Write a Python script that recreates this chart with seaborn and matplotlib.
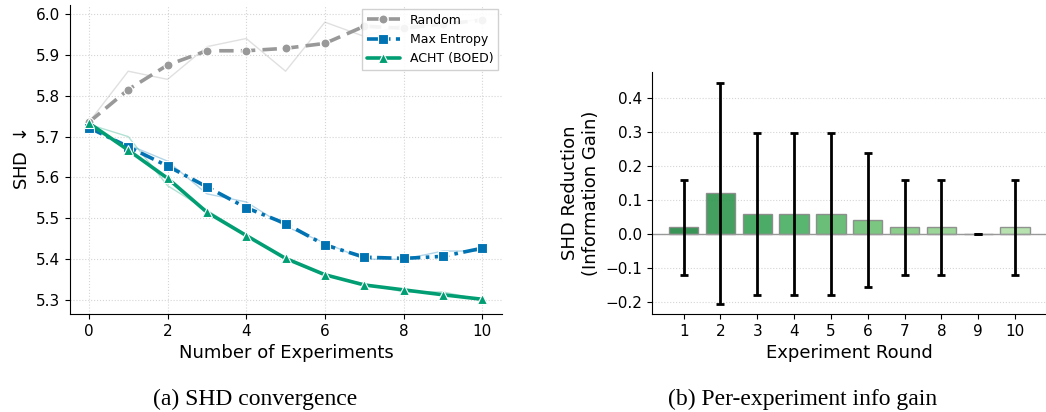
import numpy as np
import pandas as pd
import matplotlib
matplotlib.use("Agg")
import matplotlib.pyplot as plt
import seaborn as sns

# SHD curves (smoothed) and raw runs
experiments = list(range(11))
random_smooth = [5.735, 5.815, 5.875, 5.910, 5.910, 5.916, 5.928, 5.970, 5.965, 5.975, 5.985]
random_raw = [5.735, 5.860, 5.840, 5.920, 5.940, 5.860, 5.980, 5.945, 5.975, 5.970, 5.990]
maxent_smooth = [5.722, 5.675, 5.628, 5.577, 5.526, 5.487, 5.435, 5.405, 5.402, 5.407, 5.427]
maxent_raw = [5.720, 5.680, 5.640, 5.560, 5.540, 5.480, 5.440, 5.400, 5.400, 5.420, 5.420]
acht_smooth = [5.733, 5.667, 5.598, 5.515, 5.458, 5.402, 5.362, 5.337, 5.325, 5.313, 5.302]
acht_raw = [5.730, 5.700, 5.580, 5.520, 5.460, 5.400, 5.360, 5.340, 5.320, 5.320, 5.300]

# per-round information gain
rounds = [str(i) for i in range(1, 11)]
gains = [0.02, 0.12, 0.06, 0.06, 0.06, 0.04, 0.02, 0.02, 0.0, 0.02]
gain_err = [0.14, 0.325, 0.238, 0.238, 0.238, 0.197, 0.14, 0.14, 0.0, 0.14]

sns.set_style("ticks", {"text.color": "black", "axes.labelcolor": "black",
                        "xtick.color": "black", "ytick.color": "black",
                        "axes.edgecolor": "black"})
plt.rcParams['font.family'] = ['DejaVu Sans']

fig = plt.figure(figsize=(10.46, 4.12), dpi=100)
ax1 = fig.add_axes([0.0669, 0.2379, 0.413, 0.750])
ax2 = fig.add_axes([0.6233, 0.2379, 0.3767, 0.587])

series = [
    ("Random", random_smooth, random_raw, "#999999", (0, (4, 2)), "o"),
    ("Max Entropy", maxent_smooth, maxent_raw, "#0173B2", (0, (4, 1.5, 1, 1.5)), "s"),
    ("ACHT (BOED)", acht_smooth, acht_raw, "#029E73", "-", "^"),
]
for name, smooth, raw, col, ls, mk in series:
    sns.lineplot(x=experiments, y=raw, ax=ax1, color=col, alpha=0.3, lw=1.0, legend=False)
for name, smooth, raw, col, ls, mk in series:
    sns.lineplot(x=experiments, y=smooth, ax=ax1, color=col, lw=2.6, linestyle=ls,
                 marker=mk, markersize=6.5, markeredgecolor="white", markeredgewidth=0.8,
                 label=name)

ax1.set_xlim(-0.48, 10.5)
ax1.set_ylim(5.266, 6.022)
ax1.set_xticks([0, 2, 4, 6, 8, 10])
ax1.set_yticks([5.3, 5.4, 5.5, 5.6, 5.7, 5.8, 5.9, 6.0])
ax1.set_xlabel("Number of Experiments", fontsize=13)
ax1.set_ylabel("SHD $\\downarrow$", fontsize=13)
ax1.tick_params(labelsize=11)
ax1.grid(True, linestyle=":", color="#d5d5d5", lw=0.8)
leg = ax1.legend(loc="upper right", fontsize=9, fancybox=False, framealpha=0.9,
                 handlelength=2.6, borderaxespad=0.3)
leg.get_frame().set_edgecolor("#cccccc")
sns.despine(ax=ax1)

# bar panel
df = pd.DataFrame({"round": rounds, "gain": gains})
colors = [plt.cm.Greens(v) for v in np.linspace(0.75, 0.33, 10)]
sns.barplot(data=df, x="round", y="gain", hue="round", palette=colors, legend=False,
            ax=ax2, edgecolor="#888888", linewidth=1.0, alpha=0.9, width=0.8,
            saturation=1)
ax2.errorbar(np.arange(10), gains, yerr=gain_err, fmt="none", ecolor="black",
             elinewidth=2.0, capsize=3, capthick=2.0)
ax2.axhline(0, color="#999999", lw=1.0, zorder=1)
ax2.set_xlim(-0.86, 9.84)
ax2.set_ylim(-0.235, 0.476)
ax2.set_yticks([-0.2, -0.1, 0.0, 0.1, 0.2, 0.3, 0.4])
ax2.set_xlabel("Experiment Round", fontsize=13)
ax2.set_ylabel("SHD Reduction\n(Information Gain)", fontsize=13)
ax2.tick_params(labelsize=11)
ax2.yaxis.grid(True, linestyle=":", color="#d5d5d5", lw=0.8)
ax2.set_axisbelow(True)
sns.despine(ax=ax2)

fig.text(0.244, 0.03, "(a) SHD convergence", family="Liberation Serif", fontsize=17,
         ha="center", va="center")
fig.text(0.767, 0.03, "(b) Per-experiment info gain", family="Liberation Serif", fontsize=17,
         ha="center", va="center")

fig.savefig("out.png", dpi=100)
